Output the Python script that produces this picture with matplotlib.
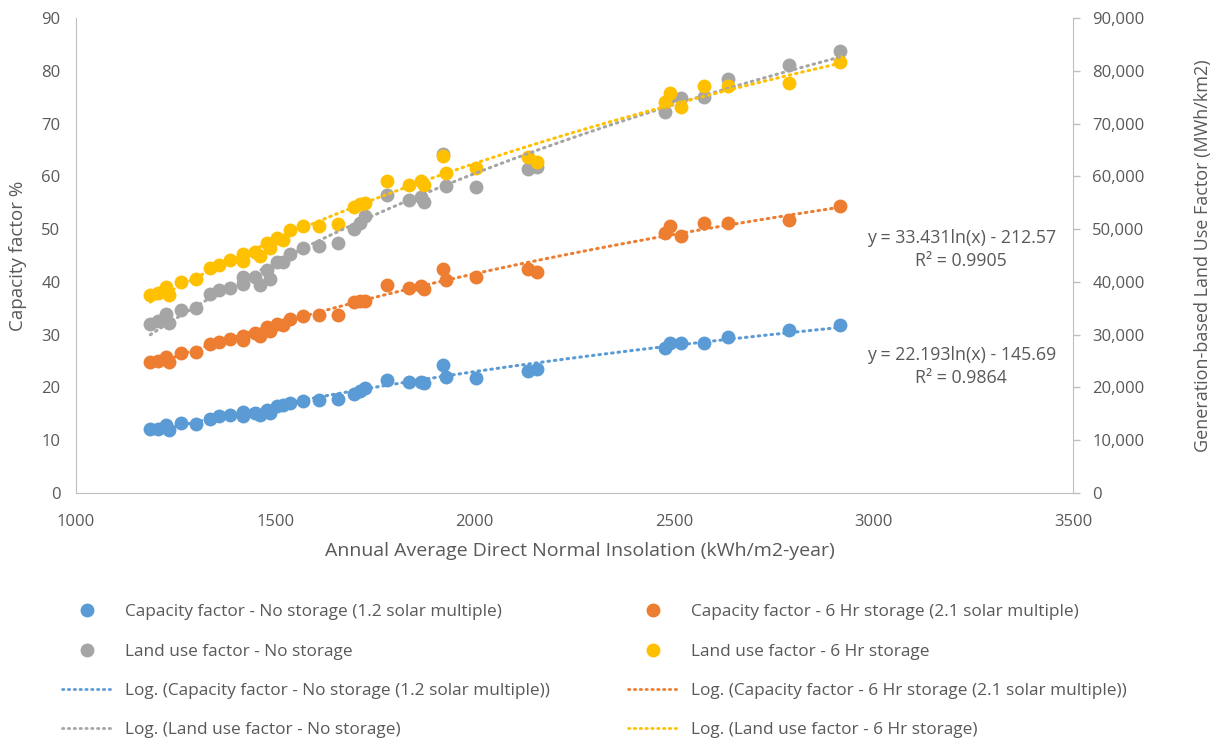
"""
Capacity factor and land use factor against direct normal insolation.
"""

import numpy as np
from matplotlib import pyplot as plt
from matplotlib.lines import Line2D
from matplotlib.ticker import FuncFormatter

# annual average DNI (kWh/m2-year) for each site
dni = [1187, 1207, 1226, 1235, 1263, 1301, 1337, 1360, 1387, 1420,
       1420, 1450, 1462, 1479, 1487, 1504, 1520, 1536, 1569, 1611,
       1658, 1698, 1713, 1725, 1780, 1836, 1866, 1872, 1922, 1928,
       2004, 2133, 2156, 2478, 2491, 2517, 2576, 2634, 2789, 2915]

# capacity factor %, no storage (1.2 solar multiple)
cf_no_storage = [12.1, 12.2, 12.8, 12.0, 13.2, 13.1, 14.0, 14.5, 14.7, 15.3,
                 14.6, 15.2, 14.7, 15.7, 15.1, 16.4, 16.7, 17.1, 17.5, 17.6,
                 17.8, 18.8, 19.3, 19.9, 21.5, 21.0, 21.0, 20.8, 24.2, 22.0,
                 21.8, 23.2, 23.4, 27.4, 28.5, 28.4, 28.4, 29.6, 30.8, 31.8]

# capacity factor %, 6 hr storage (2.1 solar multiple)
cf_6hr_storage = [24.9, 25.0, 25.8, 24.8, 26.6, 26.8, 28.2, 28.7, 29.2, 29.8,
                  29.0, 30.3, 29.8, 31.4, 30.7, 32.0, 31.8, 32.9, 33.5, 33.7,
                  33.8, 36.2, 36.4, 36.4, 39.4, 38.8, 39.2, 38.6, 42.5, 40.4,
                  41.0, 42.4, 41.9, 49.2, 50.6, 48.7, 51.2, 51.2, 51.7, 54.4]

# generation-based land use factor (MWh/km2), no storage
luf_no_storage = [32100, 32600, 34000, 32200, 34700, 35000, 37700, 38500, 38900, 41000,
                  39600, 41000, 39400, 42300, 40500, 43800, 43800, 45300, 46400, 46800,
                  47400, 50100, 51200, 52500, 56500, 55600, 56000, 55200, 64300, 58200,
                  58000, 61300, 61700, 72200, 75000, 74800, 75100, 78400, 81100, 83800]

# generation-based land use factor (MWh/km2), 6 hr storage
luf_6hr_storage = [37500, 37800, 39100, 37600, 40000, 40500, 42600, 43200, 44100, 45200,
                   44000, 45700, 44900, 47300, 46400, 48300, 47900, 49800, 50500, 50600,
                   51000, 54100, 54700, 54900, 59200, 58400, 59200, 58400, 63800, 60600,
                   61500, 63700, 62800, 74100, 75800, 73100, 77100, 77100, 77700, 81700]

# log trendline coefficients printed on the chart
FIT_NO_STORAGE = (22.193, -145.69)
FIT_6HR_STORAGE = (33.431, -212.57)

LABELS = [
    "Capacity factor - No storage (1.2 solar multiple)",
    "Capacity factor - 6 Hr storage (2.1 solar multiple)",
    "Land use factor - No storage",
    "Land use factor - 6 Hr storage",
]

BLUE = "#5B9BD5"
ORANGE = "#ED7D31"
GRAY = "#A5A5A5"
YELLOW = "#FFC000"
TEXT = "#595959"
AXIS = "#BFBFBF"
DOTS = (0, (0.5, 1.6))

plt.rcParams["font.family"] = ["Open Sans", "DejaVu Sans"]


def log_curve(x, fit):
    a, b = fit
    return a * np.log(x) + b


fig = plt.figure(figsize=(12.15, 7.4), dpi=100)
ax = fig.add_axes([0.0623, 0.3338, 0.8208, 0.6419])
ax2 = ax.twinx()

x = np.array(dni, dtype=float)
xs = np.linspace(x.min(), x.max(), 300)

ax.scatter(x, cf_no_storage, s=100, color=BLUE, linewidths=0, zorder=3)
ax.scatter(x, cf_6hr_storage, s=100, color=ORANGE, linewidths=0, zorder=3)
ax.plot(xs, log_curve(xs, FIT_NO_STORAGE), color=BLUE, lw=2.2, ls=DOTS,
        dash_capstyle="round", zorder=4)
ax.plot(xs, log_curve(xs, FIT_6HR_STORAGE), color=ORANGE, lw=2.2, ls=DOTS,
        dash_capstyle="round", zorder=4)

ax2.scatter(x, luf_no_storage, s=100, color=GRAY, linewidths=0, zorder=3)
ax2.scatter(x, luf_6hr_storage, s=100, color=YELLOW, linewidths=0, zorder=3)
fit_gray = tuple(np.polyfit(np.log(x), luf_no_storage, 1))
fit_yellow = tuple(np.polyfit(np.log(x), luf_6hr_storage, 1))
ax2.plot(xs, log_curve(xs, fit_gray), color=GRAY, lw=2.2, ls=DOTS,
         dash_capstyle="round", zorder=4)
ax2.plot(xs, log_curve(xs, fit_yellow), color=YELLOW, lw=2.2, ls=DOTS,
         dash_capstyle="round", zorder=4)

ax.set_xlim(1000, 3500)
ax.set_xticks(range(1000, 3501, 500))
ax.set_ylim(0, 90)
ax.set_yticks(range(0, 91, 10))
ax2.set_ylim(0, 90000)
ax2.set_yticks(range(0, 90001, 10000))
ax2.yaxis.set_major_formatter(FuncFormatter(lambda v, _: f"{v:,.0f}"))

ax.tick_params(axis="x", length=0, pad=15, labelsize=12, labelcolor=TEXT)
ax.tick_params(axis="y", length=0, pad=11, labelsize=12, labelcolor=TEXT)
ax2.tick_params(axis="y", length=5, width=1, color=AXIS, pad=9,
                labelsize=12, labelcolor=TEXT)

for a in (ax, ax2):
    a.spines["top"].set_visible(False)
    for side in ("left", "bottom", "right"):
        a.spines[side].set_color(AXIS)
ax.spines["right"].set_visible(False)
ax2.spines["left"].set_visible(False)
ax2.spines["bottom"].set_visible(False)

ax.set_xlabel("Annual Average Direct Normal Insolation (kWh/m2-year)",
              fontsize=14, color=TEXT)
ax.xaxis.set_label_coords(0.506, -0.103)
ax.set_ylabel("Capacity factor %", fontsize=13.5, color=TEXT)
ax.yaxis.set_label_coords(-0.049, 0.5)
ax2.set_ylabel("Generation-based Land Use Factor (MWh/km2)", fontsize=13,
               color=TEXT)
ax2.yaxis.set_label_coords(1.121, 0.5)

ax.text(3220, 46.1, "y = 33.431ln(x) - 212.57\nR² = 0.9905", ha="center",
        va="center", fontsize=12.8, color=TEXT, linespacing=1.35)
ax.text(3220, 24.0, "y = 22.193ln(x) - 145.69\nR² = 0.9864", ha="center",
        va="center", fontsize=12.8, color=TEXT, linespacing=1.35)


def marker_handle(color):
    return Line2D([], [], marker="o", ls="none", color=color, markersize=9)


def trend_handle(color):
    return Line2D([], [], color=color, lw=2, ls=DOTS, dash_capstyle="round")


left_handles = [marker_handle(BLUE), marker_handle(GRAY),
                trend_handle(BLUE), trend_handle(GRAY)]
left_labels = [LABELS[0], LABELS[2],
               f"Log. ({LABELS[0]})", f"Log. ({LABELS[2]})"]
right_handles = [marker_handle(ORANGE), marker_handle(YELLOW),
                 trend_handle(ORANGE), trend_handle(YELLOW)]
right_labels = [LABELS[1], LABELS[3],
                f"Log. ({LABELS[1]})", f"Log. ({LABELS[3]})"]

legend_style = dict(loc="upper left", frameon=False, borderpad=0,
                    borderaxespad=0, handlelength=2.9, handletextpad=0.75,
                    labelspacing=1.36, fontsize=12.4, labelcolor=TEXT)
fig.legend(left_handles, left_labels, bbox_to_anchor=(62 / 1215, 1 - 604 / 740),
           **legend_style)
fig.legend(right_handles, right_labels,
           bbox_to_anchor=(628 / 1215, 1 - 604 / 740), **legend_style)

fig.savefig("out.png", dpi=100)
